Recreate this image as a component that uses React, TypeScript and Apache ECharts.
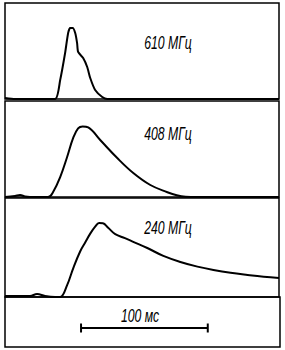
import React, { useEffect, useRef } from "react";
import * as echarts from "echarts";

// time in ms, intensity in relative units (0..100 = panel height)
const curve610: [number, number][] = [
  [0, 1], [7.9, 0], [39.7, 0], [43.7, 19.8], [47.6, 47.9], [50.0, 68.8], [51.6, 74],
  [53.6, 74], [55.6, 68.8], [57.1, 58.3], [57.9, 49], [61.9, 42.7], [65.1, 33.3],
  [67.5, 21.9], [71.4, 9.4], [77.0, 2.1], [81.0, 0], [217, 0],
];
const curve408: [number, number][] = [
  [0, 0], [7.9, 1], [11.9, 2.1], [15.9, 0.5], [19.8, 0], [34.1, 0], [38.1, 5.2],
  [43.7, 20.8], [49.2, 41.7], [54.0, 61.5], [57.9, 71.5], [61.5, 73.5], [65.9, 72.5],
  [75.4, 59.4], [88.9, 40.6], [101.6, 25], [115.1, 12.5], [128.6, 5.0], [136, 1.8],
  [143, 0.3], [152, 0], [217, 0],
];
const curve240: [number, number][] = [
  [0, 1], [19.8, 1], [25.4, 3], [31.7, 1], [39.7, 0], [43.7, 0], [49.2, 12],
  [54.0, 29], [59.5, 46], [63.5, 55], [67.5, 64], [71.4, 71], [74.5, 74.7],
  [77.5, 74.5], [81.7, 70], [87.3, 63.5], [95, 59.5], [102, 55.5], [112.7, 49.5],
  [125.4, 41.5], [138.9, 35.4], [152.4, 30.7], [165.1, 27.3], [178.6, 24.4],
  [192.1, 22.2], [204.8, 20.4], [217, 19.2],
];
const scaleBar: [number, number][] = [[60, 38], [160, 38]];
const panelLabels = ["610 МГц", "408 МГц", "240 МГц"];
const scaleLabel = "100 мс";

export default function App() {
  const ref = useRef<HTMLDivElement>(null);
  useEffect(() => {
    if (!ref.current) return;
    const chart = echarts.init(ref.current, null, { renderer: "svg" });
    const grids = [
      { left: 5, width: 274, top: 3, height: 96 },
      { left: 5, width: 274, top: 101, height: 96 },
      { left: 5, width: 274, top: 198, height: 99 },
      { left: 5, width: 275, top: 297, height: 50 },
    ].map((g) => ({ ...g, show: true, borderColor: "#000", borderWidth: 1.5, backgroundColor: "transparent" }));
    const xAxes = grids.map((_, i) => ({
      type: "value", gridIndex: i, min: 0, max: 217, show: false,
    }));
    const yAxes = grids.map((_, i) => ({
      type: "value", gridIndex: i, min: 0, max: 100, show: false,
    }));
    const lineStyle = { color: "#000", width: 2 };
    const font = {
      fontFamily: "Liberation Sans",
      fontStyle: "italic",
      fontSize: 18,
      fill: "#000",
      align: "center",
      verticalAlign: "middle",
    };
    const labelPos = [
      [168, 43],
      [168, 134],
      [168, 228],
    ];
    chart.setOption({
      animation: false,
      backgroundColor: "#fff",
      grid: grids,
      xAxis: xAxes,
      yAxis: yAxes,
      series: [
        { type: "line", xAxisIndex: 0, yAxisIndex: 0, data: curve610, smooth: 0.2, showSymbol: false, lineStyle },
        { type: "line", xAxisIndex: 1, yAxisIndex: 1, data: curve408, smooth: 0.4, showSymbol: false, lineStyle },
        { type: "line", xAxisIndex: 2, yAxisIndex: 2, data: curve240, smooth: 0.4, showSymbol: false, lineStyle },
        {
          type: "line", xAxisIndex: 3, yAxisIndex: 3, data: scaleBar,
          showSymbol: true, symbol: "rect", symbolSize: [2, 9],
          itemStyle: { color: "#000" }, lineStyle,
        },
      ],
      graphic: [
        ...panelLabels.map((t, i) => ({
          type: "text", x: labelPos[i][0], y: labelPos[i][1], scaleX: 0.68,
          style: { ...font, text: t },
        })),
        { type: "text", x: 140, y: 316, scaleX: 0.68, style: { ...font, text: scaleLabel } },
      ],
    });
    return () => chart.dispose();
  }, []);
  return (
    <div
      ref={ref}
      style={{ position: "fixed", left: 0, top: 0, width: 285, height: 350, background: "#fff" }}
    />
  );
}
